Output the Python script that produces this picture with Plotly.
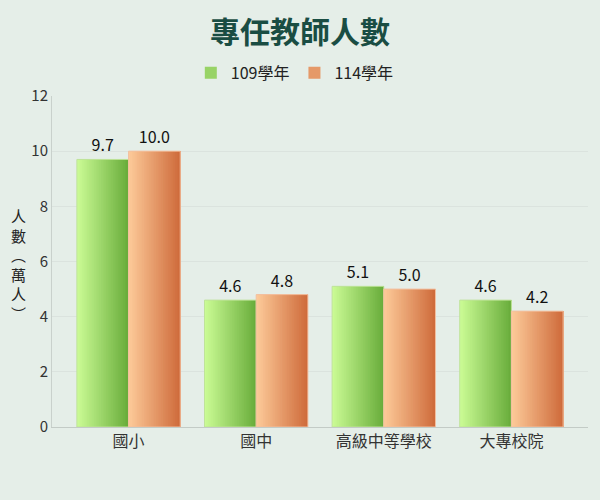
import plotly.graph_objects as go

# data
categories = ['國小', '國中', '高級中等學校', '大專校院']
series_names = ['109學年', '114學年']
teachers_109 = [9.7, 4.6, 5.1, 4.6]
teachers_114 = [10.0, 4.8, 5.0, 4.2]

FONT = 'Noto Sans CJK TC'
BG = '#e5eee8'
BAR_W = 0.405
N_STRIPS = 30

# left -> right colours of the horizontal gradient, and outline colour
styles = [
    dict(left=(204, 252, 150), right=(104, 172, 58), line='#bfe39a'),
    dict(left=(253, 203, 154), right=(206, 106, 58), line='#f2bf9f'),
]


def mix(c1, c2, t):
    return 'rgb({},{},{})'.format(*[round(a + (b - a) * t) for a, b in zip(c1, c2)])


fig = go.Figure()
x_idx = list(range(len(categories)))

for k, (name, values) in enumerate(zip(series_names, [teachers_109, teachers_114])):
    st = styles[k]
    base = -BAR_W if k == 0 else 0.0
    w = BAR_W / N_STRIPS
    for i in range(N_STRIPS):
        # each strip runs to the right edge of the bar, later strips cover earlier ones
        fig.add_trace(go.Bar(
            x=x_idx, y=values, name=name,
            offset=base + i * w, width=BAR_W - i * w,
            marker=dict(color=mix(st['left'], st['right'], (i + 0.5) / N_STRIPS),
                        line=dict(width=0)),
            showlegend=(i == N_STRIPS // 2), legendgroup=name,
            hoverinfo='skip',
        ))
    # outline + value labels
    fig.add_trace(go.Bar(
        x=x_idx, y=values, name=name,
        offset=base, width=BAR_W,
        marker=dict(color='rgba(0,0,0,0)', line=dict(color=st['line'], width=1)),
        text=[f'{v:.1f}' for v in values], textposition='outside',
        textfont=dict(family=FONT, size=16, color='#111111'),
        cliponaxis=False, showlegend=False, legendgroup=name,
    ))

fig.update_layout(
    width=600, height=500,
    barmode='overlay',
    paper_bgcolor=BG, plot_bgcolor=BG,
    margin=dict(l=52, r=12, t=96, b=73),
    font=dict(family=FONT, size=15, color='#333333'),
    title=dict(text='<b>專任教師人數</b>', x=0.5, xanchor='center',
               y=1 - 32 / 500, yanchor='middle', yref='container',
               font=dict(family=FONT, size=30, color='#1a4d43')),
    legend=dict(orientation='h', x=0.453, xanchor='center', y=1.07, yanchor='middle',
                font=dict(family=FONT, size=16, color='#222222'),
                bgcolor='rgba(0,0,0,0)', itemwidth=30),
    xaxis=dict(tickmode='array', tickvals=x_idx, ticktext=categories,
               range=[-0.6, 3.6], showgrid=False, zeroline=False,
               showline=True, linecolor='#c3cbc6', linewidth=1,
               tickfont=dict(family=FONT, size=16, color='#333333')),
    yaxis=dict(range=[0, 12], dtick=2, showgrid=True, gridcolor='#dbe3de',
               zeroline=False, showline=True, linecolor='#c9d1cc', linewidth=1,
               ticks='', tickfont=dict(family=FONT, size=15, color='#333333')),
    annotations=[dict(text='人<br>數<br>︵<br>萬<br>人<br>︶', xref='paper', yref='paper',
                      x=-0.063, y=0.49, xanchor='center', yanchor='middle',
                      showarrow=False, font=dict(family=FONT, size=15, color='#222222'))],
)

fig.write_html('out.html', config={'displayModeBar': False},
               post_script="document.body.style.margin='0';")
